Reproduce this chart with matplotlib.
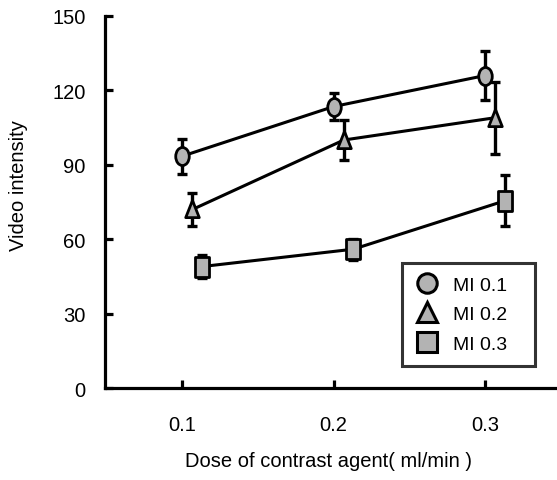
import numpy as np
import matplotlib
matplotlib.use("Agg")
import matplotlib.pyplot as plt
from matplotlib.path import Path
from matplotlib.lines import Line2D

plt.rcParams['font.family'] = ['Liberation Sans', 'DejaVu Sans']

doses = [0.1, 0.2, 0.3]
series = ["MI 0.1", "MI 0.2", "MI 0.3"]
mi01 = [93.5, 113.5, 126.0]
mi01_err = [7.0, 5.5, 10.0]
mi02 = [72.0, 100.0, 109.0]
mi02_err = [6.5, 8.0, 14.5]
mi03 = [49.0, 56.0, 75.5]
mi03_err = [4.8, 4.2, 10.3]
yticks = [0, 30, 60, 90, 120, 150]
xticklabels = ["0.1", "0.2", "0.3"]

values = [mi01, mi02, mi03]
errors = [mi01_err, mi02_err, mi03_err]
dodge = [0.0, 0.0067, 0.013]

def squash(path, sx=0.72):
    v = path.vertices.copy()
    v[:, 0] *= sx
    return Path(v, path.codes)

circ = squash(Path.unit_circle(), 0.75)
tri = Path([(-0.75, -0.9), (0.75, -0.9), (0, 1), (-0.75, -0.9)],
           [Path.MOVETO, Path.LINETO, Path.LINETO, Path.CLOSEPOLY])
sq = squash(Path.unit_rectangle().transformed(
    matplotlib.transforms.Affine2D().translate(-0.5, -0.5)), 0.7)
markers = [circ, tri, sq]
sizes = [13, 13, 14]
legend_markers = ['o', '^', 's']

fig = plt.figure(figsize=(5.57, 4.81), dpi=100)
ax = fig.add_axes([0.1885, 0.191, 0.8115, 0.7737])

gray = '#b3b3b3'
for vals, errs, m, ms, d in zip(values, errors, markers, sizes, dodge):
    xs = np.array(doses) + d
    ax.errorbar(xs, vals, yerr=errs, fmt='none', ecolor='black',
                elinewidth=2.4, capsize=3.5, capthick=2.4, zorder=2)
    ax.plot(xs, vals, color='black', lw=2.2, marker=m, ms=ms,
            mfc=gray, mec='black', mew=2.0, zorder=3)

ax.set_xlim(0.049, 0.3475)
ax.set_ylim(0, 150)
ax.set_yticks(yticks)
ax.set_xticks(doses)
ax.set_xticklabels(xticklabels)

for s in ['top', 'right']:
    ax.spines[s].set_visible(False)
for s in ['left', 'bottom']:
    ax.spines[s].set_linewidth(2.3)

ax.tick_params(axis='both', direction='in', length=6, width=2.3, labelsize=14.5)
ax.tick_params(axis='x', pad=19)
ax.tick_params(axis='y', pad=14)

fig.text(0.589, 0.04, "Dose of contrast agent( ml/min )", ha='center', va='center', fontsize=14.5)
fig.text(0.033, 0.615, "Video intensity", ha='center', va='center', rotation=90, fontsize=14.5)

handles = [Line2D([], [], linestyle='none', marker=lm, ms=14, mfc=gray, mec='black', mew=2.2)
           for lm in legend_markers]
leg = ax.legend(handles, series, loc='lower left', bbox_to_anchor=(0.657, 0.059, 0.294, 0.29),
                mode='expand',
                frameon=True, fancybox=False, edgecolor='black', fontsize=14,
                handletextpad=0.75, borderpad=0.7, labelspacing=0.6, handlelength=1.15,
                borderaxespad=0)
leg.get_frame().set_linewidth(2.2)

fig.savefig("out.png", dpi=100)
